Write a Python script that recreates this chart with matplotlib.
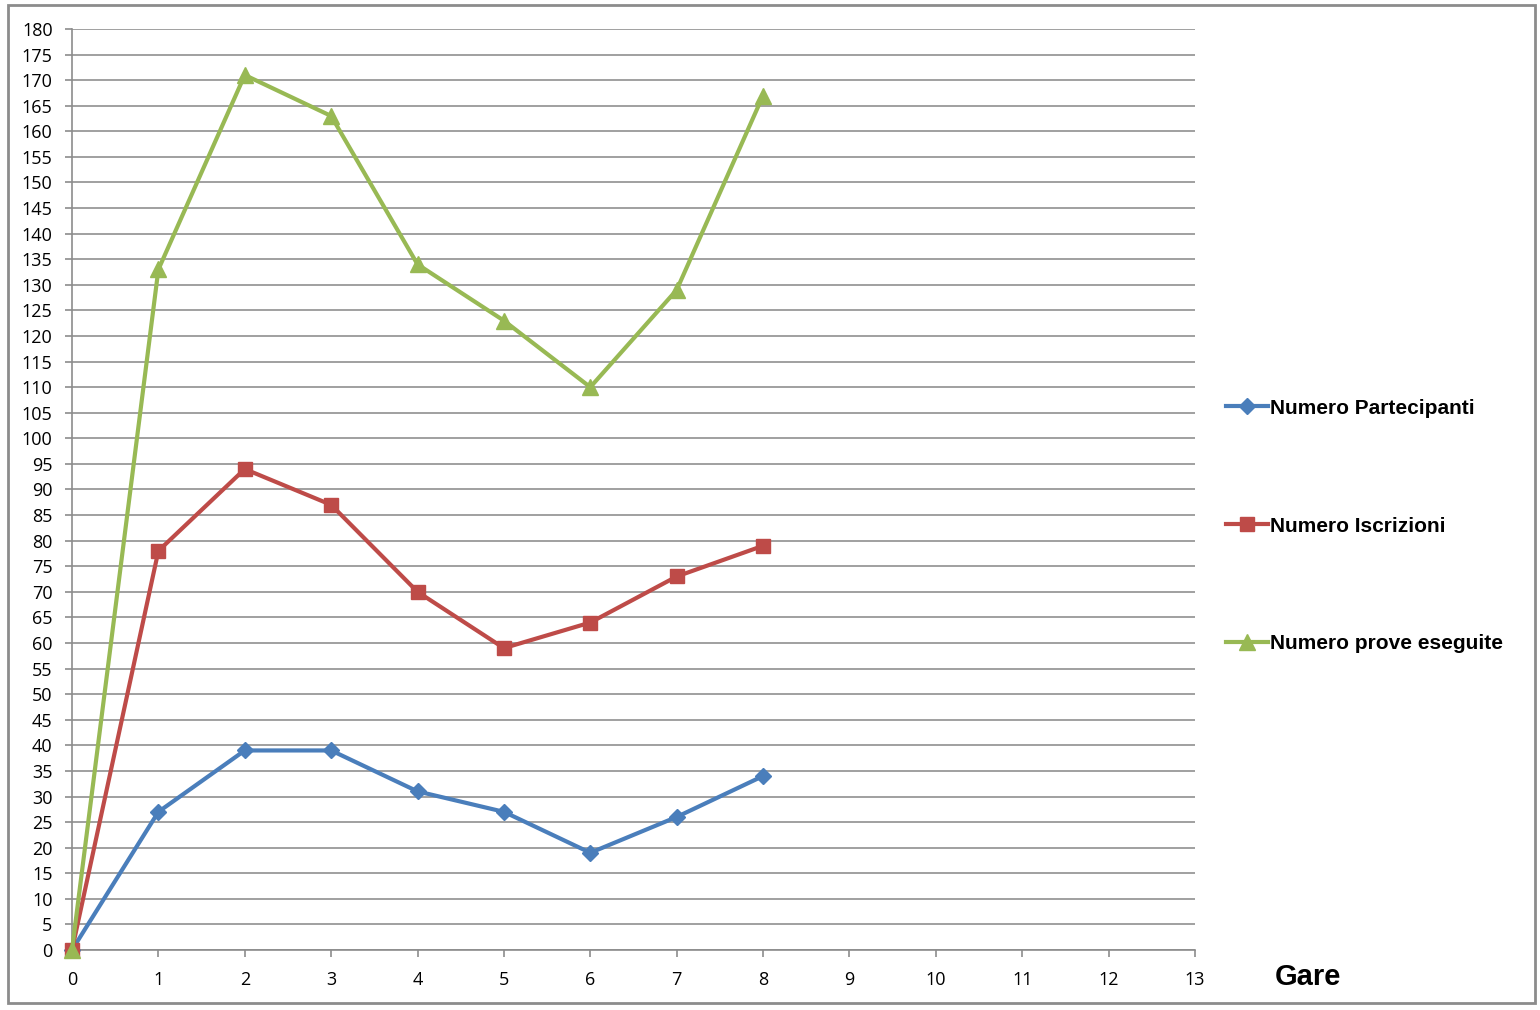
import matplotlib
matplotlib.use("Agg")
import matplotlib.pyplot as plt
from matplotlib.patches import Rectangle

gare = [0, 1, 2, 3, 4, 5, 6, 7, 8]
partecipanti = [0, 27, 39, 39, 31, 27, 19, 26, 34]
iscrizioni = [0, 78, 94, 87, 70, 59, 64, 73, 79]
prove = [0, 133, 171, 163, 134, 123, 110, 129, 167]
labels = ["Numero Partecipanti", "Numero Iscrizioni", "Numero prove eseguite"]
x_ticks = list(range(0, 14))
y_ticks = list(range(0, 181, 5))

W, H = 1540, 1010
fig = plt.figure(figsize=(W / 100, H / 100), dpi=100)
ax = fig.add_axes([72 / W, 1 - 950 / H, (1195 - 72) / W, (950 - 29) / H])

ax.plot(gare, partecipanti, color="#4A7EBB", lw=3, marker="D", ms=8,
        label=labels[0], zorder=3, clip_on=False)
ax.plot(gare, iscrizioni, color="#BE4B48", lw=3, marker="s", ms=10.5,
        label=labels[1], zorder=3, clip_on=False)
ax.plot(gare, prove, color="#98B954", lw=3, marker="^", ms=11,
        label=labels[2], zorder=4, clip_on=False)

ax.set_xlim(0, 13)
ax.set_ylim(0, 180)
ax.set_xticks(x_ticks)
ax.set_yticks(y_ticks)
ax.grid(axis="y", color="#A0A0A0", lw=1.4)
ax.set_axisbelow(True)
for s in ["top", "right"]:
    ax.spines[s].set_visible(False)
for s in ["left", "bottom"]:
    ax.spines[s].set_color("#8C8C8C")
    ax.spines[s].set_linewidth(1.2)
ax.tick_params(axis="both", direction="out", length=5, color="#8C8C8C",
               labelsize=13, width=1.2)
ax.tick_params(axis="x", pad=10)
ax.tick_params(axis="y", pad=9)
for lab in ax.get_xticklabels() + ax.get_yticklabels():
    lab.set_family("Open Sans")

fig.text(1308 / W, 1 - 977 / H, "Gare", fontsize=21, fontweight="bold",
         family="Liberation Sans", ha="center", va="center")

leg = fig.legend(loc="center left", bbox_to_anchor=(1226 / W, 1 - 526 / H),
                 frameon=False, labelspacing=4.75, handlelength=2.0,
                 handletextpad=0.1, borderpad=0, borderaxespad=0,
                 prop={"family": "Liberation Sans", "weight": "bold", "size": 15})

fig.patches.append(Rectangle((8 / W, 1 - 1003 / H), (1535 - 8) / W, (1003 - 5) / H,
                             transform=fig.transFigure, fill=False,
                             edgecolor="#8C8C8C", lw=2))

fig.savefig("out.png", dpi=100)
